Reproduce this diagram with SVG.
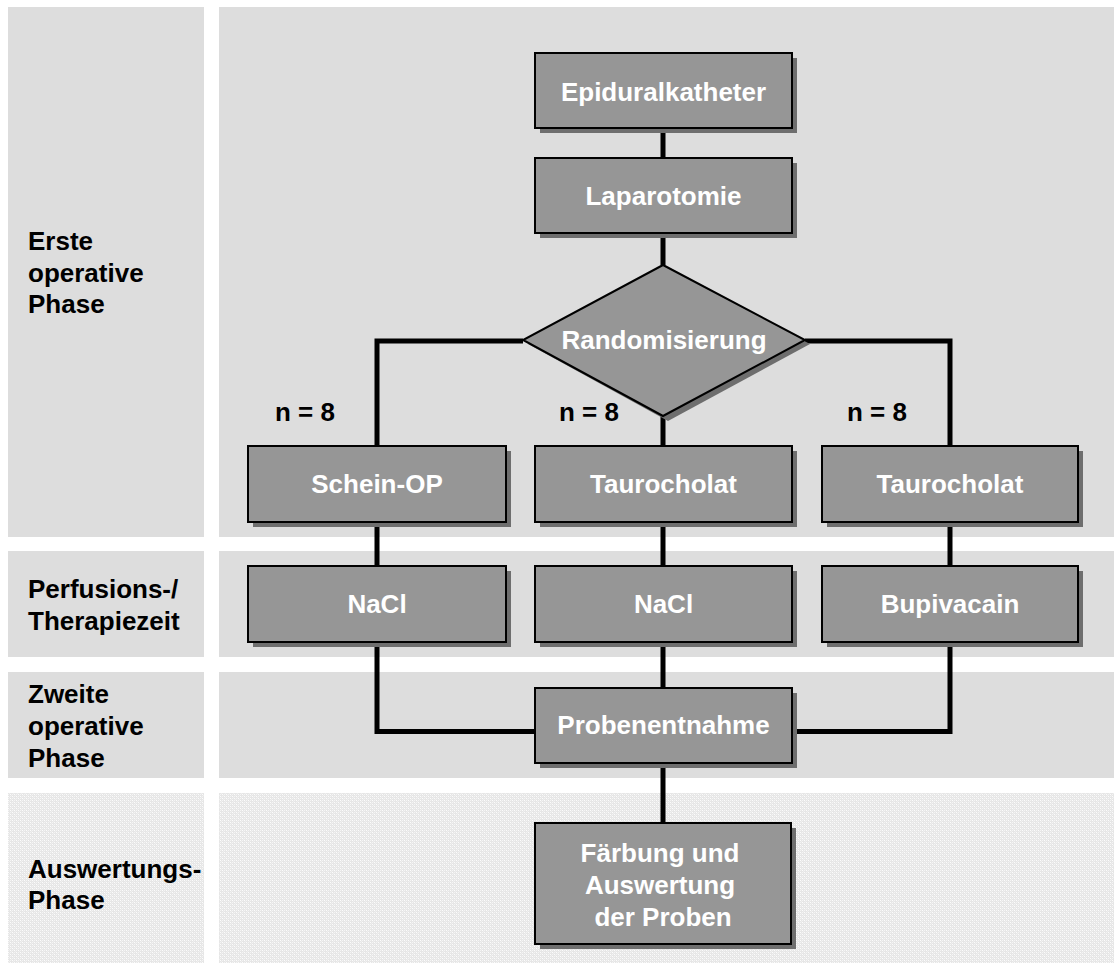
<svg xmlns="http://www.w3.org/2000/svg" width="1114" height="969" viewBox="0 0 1114 969">
<style>
.band{fill:#dddddd}
.box{fill:#969696;stroke:#000;stroke-width:2}
.sh{fill:#6e6e6e}
.bt{font-family:"Liberation Sans",Arial,sans-serif;font-weight:bold;font-size:26px;fill:#fff;text-anchor:middle}
.lt{font-family:"Liberation Sans",Arial,sans-serif;font-weight:bold;font-size:26px;fill:#000}
.ln{fill:none;stroke:#000;stroke-width:5;stroke-linejoin:miter}
</style>
<defs>
<pattern id="dots" width="4" height="4" patternUnits="userSpaceOnUse">
<rect width="4" height="4" fill="#e6e6e6"/>
<rect x="0" y="0" width="1" height="1" fill="#fcfcfc"/>
<rect x="2" y="2" width="1" height="1" fill="#fcfcfc"/>
<rect x="2" y="0" width="1" height="1" fill="#f4f4f4"/>
<rect x="0" y="2" width="1" height="1" fill="#f4f4f4"/>
<rect x="1" y="1" width="1" height="1" fill="#eeeeee"/>
<rect x="3" y="3" width="1" height="1" fill="#eeeeee"/>
</pattern>
</defs>
<rect width="1114" height="969" fill="#fff"/>
<g id="bands">
<rect class="band" x="8" y="7" width="196" height="530"/>
<rect class="band" x="219" y="7" width="895" height="530"/>
<rect class="band" x="8" y="551" width="196" height="106"/>
<rect class="band" x="219" y="551" width="895" height="106"/>
<rect class="band" x="8" y="672" width="196" height="106"/>
<rect class="band" x="219" y="672" width="895" height="106"/>
<rect x="8" y="793" width="196" height="170" fill="url(#dots)"/>
<rect x="219" y="793" width="895" height="170" fill="url(#dots)"/>
</g>
<g id="phase-labels">
<text class="lt" x="28"><tspan x="28" y="250">Erste</tspan><tspan x="28" y="282">operative</tspan><tspan x="28" y="313">Phase</tspan></text>
<text class="lt" x="28"><tspan x="28" y="598">Perfusions-/</tspan><tspan x="28" y="630">Therapiezeit</tspan></text>
<text class="lt" x="28"><tspan x="28" y="703">Zweite</tspan><tspan x="28" y="735">operative</tspan><tspan x="28" y="767">Phase</tspan></text>
<text class="lt" x="28"><tspan x="28" y="878">Auswertungs-</tspan><tspan x="28" y="909">Phase</tspan></text>
</g>
<g id="connectors">
<path class="ln" d="M663 128V158M663 233V265M663 416V446M663 522V566M663 642V688M663 763V823"/>
<path class="ln" d="M523 341H377V446M377 522V566M377 642V731.5H535"/>
<path class="ln" d="M805 341H950V446M950 521V566M950 642V731.5H792"/>
</g>
<g id="n-labels">
<text class="lt" x="275" y="421">n = 8</text>
<text class="lt" x="559" y="421">n = 8</text>
<text class="lt" x="847" y="421">n = 8</text>
</g>
<g id="epiduralkatheter">
<rect class="sh" x="540" y="58" width="257" height="75"/>
<rect class="box" x="535" y="53" width="257" height="75"/>
<text class="bt" x="663.5" y="101">Epiduralkatheter</text>
</g>
<g id="laparotomie">
<rect class="sh" x="540" y="163" width="257" height="75"/>
<rect class="box" x="535" y="158" width="257" height="75"/>
<text class="bt" x="663.5" y="205">Laparotomie</text>
</g>
<g id="randomisierung">
<polygon class="sh" points="668,270 810,344 668,421 528,344"/>
<polygon class="box" points="663,265 805,340 663,416 523,340"/>
<text class="bt" x="664" y="349">Randomisierung</text>
</g>
<g id="schein-op">
<rect class="sh" x="253" y="451" width="258" height="76"/>
<rect class="box" x="248" y="446" width="258" height="76"/>
<text class="bt" x="377" y="493">Schein-OP</text>
</g>
<g id="taurocholat-1">
<rect class="sh" x="540" y="451" width="257" height="76"/>
<rect class="box" x="535" y="446" width="257" height="76"/>
<text class="bt" x="663.5" y="493">Taurocholat</text>
</g>
<g id="taurocholat-2">
<rect class="sh" x="827" y="451" width="256" height="76"/>
<rect class="box" x="822" y="446" width="256" height="76"/>
<text class="bt" x="950" y="493">Taurocholat</text>
</g>
<g id="nacl-1">
<rect class="sh" x="253" y="571" width="258" height="76"/>
<rect class="box" x="248" y="566" width="258" height="76"/>
<text class="bt" x="377" y="613">NaCl</text>
</g>
<g id="nacl-2">
<rect class="sh" x="540" y="571" width="257" height="76"/>
<rect class="box" x="535" y="566" width="257" height="76"/>
<text class="bt" x="663.5" y="613">NaCl</text>
</g>
<g id="bupivacain">
<rect class="sh" x="827" y="571" width="256" height="76"/>
<rect class="box" x="822" y="566" width="256" height="76"/>
<text class="bt" x="950" y="613">Bupivacain</text>
</g>
<g id="probenentnahme">
<rect class="sh" x="540" y="693" width="257" height="75"/>
<rect class="box" x="535" y="688" width="257" height="75"/>
<text class="bt" x="663.5" y="734">Probenentnahme</text>
</g>
<g id="faerbung">
<rect class="sh" x="540" y="828" width="256" height="121"/>
<rect class="box" x="535" y="823" width="256" height="121"/>
<text class="bt"><tspan x="660" y="862">Färbung und</tspan><tspan x="660" y="894">Auswertung</tspan><tspan x="663" y="926">der Proben</tspan></text>
</g>
</svg>
